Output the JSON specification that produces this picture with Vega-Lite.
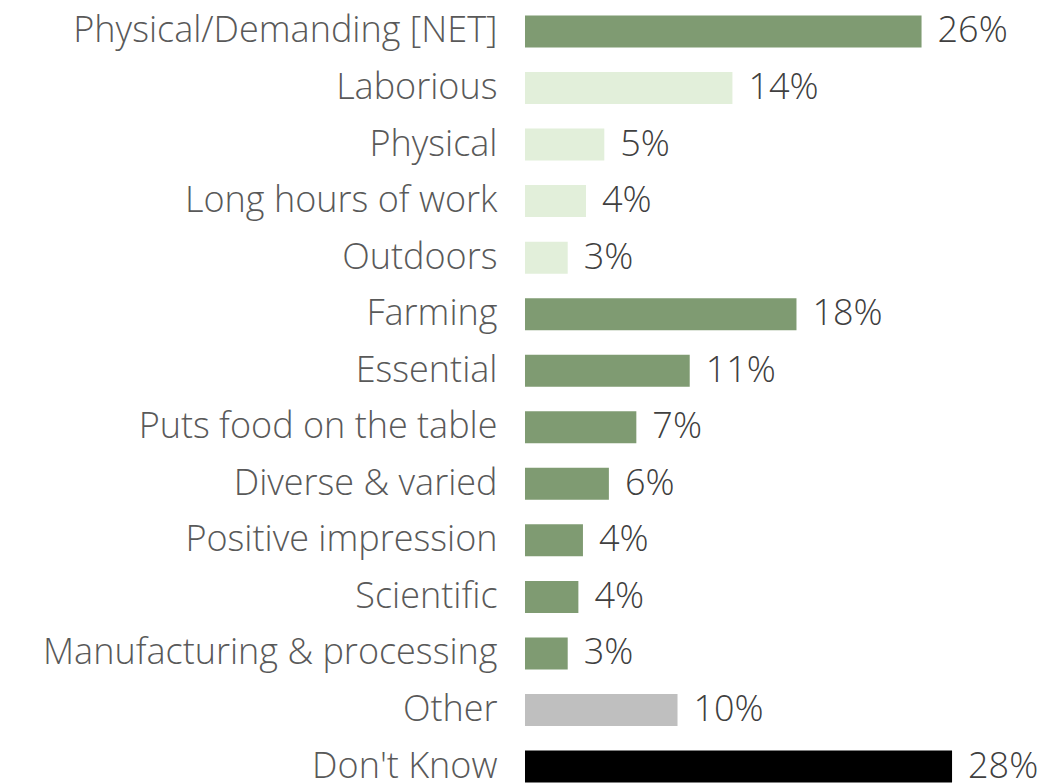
{
  "$schema": "https://vega.github.io/schema/vega-lite/v6.json",
  "autosize": "none",
  "padding": {"left": 525, "top": 0, "right": 0, "bottom": 0},
  "width": 521,
  "height": 798,
  "background": "#ffffff",
  "config": {"view": {"stroke": null}, "font": "Open Sans"},
  "data": {"values": [
    {"item": "Physical/Demanding [NET]", "value": 26.0, "pct": "26%", "group": "net"},
    {"item": "Laborious", "value": 13.6, "pct": "14%", "group": "sub"},
    {"item": "Physical", "value": 5.2, "pct": "5%", "group": "sub"},
    {"item": "Long hours of work", "value": 4.0, "pct": "4%", "group": "sub"},
    {"item": "Outdoors", "value": 2.8, "pct": "3%", "group": "sub"},
    {"item": "Farming", "value": 17.8, "pct": "18%", "group": "net"},
    {"item": "Essential", "value": 10.8, "pct": "11%", "group": "net"},
    {"item": "Puts food on the table", "value": 7.3, "pct": "7%", "group": "net"},
    {"item": "Diverse & varied", "value": 5.5, "pct": "6%", "group": "net"},
    {"item": "Positive impression", "value": 3.8, "pct": "4%", "group": "net"},
    {"item": "Scientific", "value": 3.5, "pct": "4%", "group": "net"},
    {"item": "Manufacturing & processing", "value": 2.8, "pct": "3%", "group": "net"},
    {"item": "Other", "value": 10.0, "pct": "10%", "group": "other"},
    {"item": "Don't Know", "value": 28.0, "pct": "28%", "group": "dk"}
  ]},
  "encoding": {
    "y": {
      "field": "item", "type": "nominal", "sort": null,
      "scale": {"paddingInner": 0.4345, "paddingOuter": 0.274},
      "axis": {"title": null, "domain": false, "ticks": false, "labelPadding": 28,
               "labelFontSize": 36, "labelColor": "#595959", "labelLimit": 600, "labelFont": "Open Sans", "labelFontWeight": 300}
    },
    "x": {"field": "value", "type": "quantitative", "scale": {"domain": [0, 34.16], "nice": false, "zero": true}, "axis": null}
  },
  "layer": [
    {
      "mark": {"type": "bar"},
      "encoding": {
        "color": {"field": "group", "type": "nominal",
          "scale": {"domain": ["net", "sub", "other", "dk"], "range": ["#7f9b72", "#e2efda", "#bfbfbf", "#000000"]},
          "legend": null}
      }
    },
    {
      "mark": {"type": "text", "align": "left", "baseline": "middle", "dx": 16, "fontSize": 36, "fontWeight": 300, "color": "#404040", "font": "Open Sans"},
      "encoding": {"text": {"field": "pct"}}
    }
  ]
}
